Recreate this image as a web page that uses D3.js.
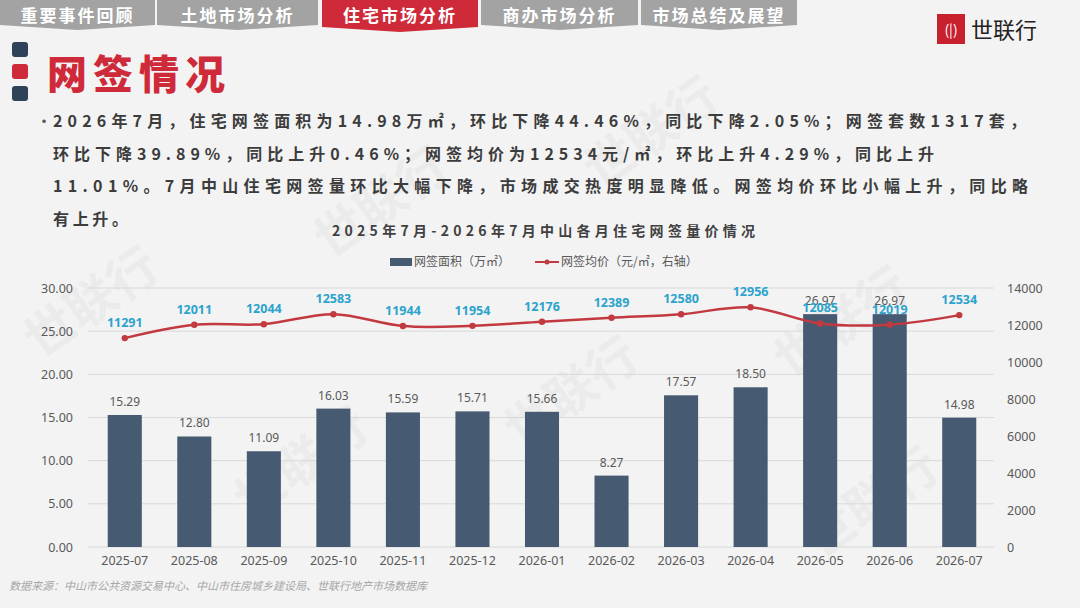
<!DOCTYPE html>
<html>
<head>
<meta charset="utf-8">
<script src="https://cdn.jsdelivr.net/npm/d3@7"></script>
<style>
  body { margin: 0; background: #f3f3f3; }
  svg { display: block; font-family: "Noto Sans CJK SC", "Noto Sans", sans-serif; }
</style>
</head>
<body>
<script>
// 数据
const months = ["2025-07", "2025-08", "2025-09", "2025-10", "2025-11", "2025-12", "2026-01",
  "2026-02", "2026-03", "2026-04", "2026-05", "2026-06", "2026-07"];
const area = [15.29, 12.80, 11.09, 16.03, 15.59, 15.71, 15.66, 8.27, 17.57, 18.50, 26.97, 26.97, 14.98];
const price = [11291, 12011, 12044, 12583, 11944, 11954, 12176, 12389, 12580, 12956, 12085, 12019, 12534];
const leftTicks = [0, 5, 10, 15, 20, 25, 30];
const rightTicks = [0, 2000, 4000, 6000, 8000, 10000, 12000, 14000];
const tabs = ["重要事件回顾", "土地市场分析", "住宅市场分析", "商办市场分析", "市场总结及展望"];
const bulletLines = [
  "2026年7月，住宅网签面积为14.98万㎡，环比下降44.46%，同比下降2.05%；网签套数1317套，",
  "环比下降39.89%，同比上升0.46%；网签均价为12534元/㎡，环比上升4.29%，同比上升",
  "11.01%。7月中山住宅网签量环比大幅下降，市场成交热度明显降低。网签均价环比小幅上升，同比略",
  "有上升。"
];

const W = 1080, H = 608;
const svg = d3.select("body").append("svg").attr("width", W).attr("height", H);

svg.append("rect").attr("width", W).attr("height", H).attr("fill", "#f3f3f3");

// 水印（很淡）
const wm = svg.append("g").attr("fill", "#ebebeb").attr("font-size", 50).attr("font-weight", "bold");
[[40, 360], [330, 260], [600, 190], [250, 520], [520, 450], [790, 380], [820, 560]]
  .forEach(p => {
    wm.append("text").attr("transform", `translate(${p[0]},${p[1]}) rotate(-35)`).text("世联行");
  });

// 顶部标签
const tabX = [[0, 155], [157, 318], [322, 478], [481, 638], [641, 797]];
tabs.forEach((t, i) => {
  const [x0, x1] = tabX[i];
  const active = i === 2;
  const mid = (x0 + x1) / 2;
  const h = active ? 27 : 25;
  svg.append("path")
    .attr("d", `M${x0},0 L${x1},0 L${x1},${h} L${mid},${h + 5} L${x0},${h} Z`)
    .attr("fill", active ? "#cf2a3a" : "#a3a3a3");
  svg.append("text")
    .attr("x", mid).attr("y", 22)
    .attr("text-anchor", "middle")
    .attr("fill", "#fff").attr("font-size", 17).attr("font-weight", "bold")
    .attr("letter-spacing", 2)
    .text(t);
});

// logo
const logo = svg.append("g");
logo.append("rect").attr("x", 937).attr("y", 14).attr("width", 28).attr("height", 30).attr("fill", "#c8202d");
logo.append("text").attr("x", 951).attr("y", 35).attr("text-anchor", "middle")
  .attr("fill", "#fff").attr("font-size", 14).text("(|)");
logo.append("text").attr("x", 971).attr("y", 38).attr("font-size", 22).attr("fill", "#222").text("世联行");

// 标题
[["#2f4257", 42], ["#cf2a3a", 64], ["#2f4257", 86]].forEach(d => {
  svg.append("rect").attr("x", 12).attr("y", d[1]).attr("width", 16).attr("height", 15)
    .attr("rx", 3).attr("fill", d[0]);
});
svg.append("text").attr("x", 47).attr("y", 89).attr("fill", "#cf2a3a")
  .attr("font-size", 40).attr("font-weight", "900").attr("letter-spacing", 6).text("网签情况");

// 正文
svg.append("text").attr("x", 36).attr("y", 127).attr("fill", "#555").attr("font-size", 16).text("·");
const lineEnds = [1026, 934, 1028, 128];
bulletLines.forEach((l, i) => {
  svg.append("text")
    .attr("x", 53).attr("y", 127 + i * 32.5)
    .attr("fill", "#3c3c3c").attr("font-size", 16).attr("font-weight", "bold")
    .attr("textLength", lineEnds[i] - 53).attr("lengthAdjust", "spacing")
    .text(l);
});

// 图表标题
svg.append("text").attr("x", 332).attr("y", 236)
  .attr("fill", "#404040").attr("font-size", 14).attr("font-weight", "bold")
  .attr("textLength", 423).attr("lengthAdjust", "spacing")
  .text("2025年7月-2026年7月中山各月住宅网签量价情况");

// 图例
const lg = svg.append("g").attr("font-size", 12).attr("fill", "#595959");
lg.append("rect").attr("x", 390).attr("y", 258).attr("width", 22).attr("height", 8).attr("fill", "#465a71");
lg.append("text").attr("x", 414).attr("y", 266).attr("fill", "#595959").text("网签面积（万㎡）");
lg.append("line").attr("x1", 535).attr("x2", 559).attr("y1", 262).attr("y2", 262)
  .attr("stroke", "#c23a40").attr("stroke-width", 2);
lg.append("circle").attr("cx", 547).attr("cy", 262).attr("r", 2.5).attr("fill", "#c23a40");
lg.append("text").attr("x", 561).attr("y", 266).attr("fill", "#595959").text("网签均价（元/㎡，右轴）");

// 坐标
const plotL = 90, plotR = 994, plotT = 288, plotB = 547;
const x = d3.scaleBand().domain(months).range([plotL, plotR]).paddingInner(0.51).paddingOuter(0.255);
const yL = d3.scaleLinear().domain([0, 30]).range([plotB, plotT]);
const yR = d3.scaleLinear().domain([0, 14000]).range([plotB, plotT]);

// 网格
svg.append("g").selectAll("line").data(leftTicks).join("line")
  .attr("x1", plotL - 2).attr("x2", plotR)
  .attr("y1", d => yL(d)).attr("y2", d => yL(d))
  .attr("stroke", "#d9d9d9").attr("stroke-width", 1);

// 左轴
const axL = svg.append("g").attr("transform", `translate(${plotL - 14},0)`)
  .call(d3.axisLeft(yL).tickValues(leftTicks).tickFormat(d3.format(".2f")).tickSize(0));
axL.select(".domain").remove();
axL.selectAll("text").attr("font-size", 12.5).attr("fill", "#595959")
  .attr("font-family", "'Noto Sans', sans-serif");

// 右轴
const axR = svg.append("g").attr("transform", `translate(${plotR + 10},0)`)
  .call(d3.axisRight(yR).tickValues(rightTicks).tickFormat(d3.format("d")).tickSize(0));
axR.select(".domain").remove();
axR.selectAll("text").attr("font-size", 12.5).attr("fill", "#595959")
  .attr("font-family", "'Noto Sans', sans-serif");

// X轴
const axX = svg.append("g").attr("transform", `translate(0,${plotB + 6})`)
  .call(d3.axisBottom(x).tickSize(0));
axX.select(".domain").remove();
axX.selectAll("text").attr("font-size", 12.5).attr("fill", "#595959")
  .attr("font-family", "'Noto Sans', sans-serif");

// 柱
svg.append("g").selectAll("rect").data(area).join("rect")
  .attr("x", (d, i) => x(months[i]))
  .attr("width", x.bandwidth())
  .attr("y", d => yL(d))
  .attr("height", d => plotB - yL(d))
  .attr("fill", "#465a71");

svg.append("g").selectAll("text").data(area).join("text")
  .attr("x", (d, i) => x(months[i]) + x.bandwidth() / 2)
  .attr("y", d => yL(d) - 9)
  .attr("text-anchor", "middle")
  .attr("font-size", 12).attr("fill", "#595959")
  .attr("font-family", "'Noto Sans', sans-serif")
  .text(d => d.toFixed(2));

// 折线
const cx = i => x(months[i]) + x.bandwidth() / 2;
const line = d3.line().x((d, i) => cx(i)).y(d => yR(d)).curve(d3.curveCatmullRom.alpha(0.5));
svg.append("path").datum(price).attr("d", line)
  .attr("fill", "none").attr("stroke", "#c23a40").attr("stroke-width", 2.5);
svg.append("g").selectAll("circle").data(price).join("circle")
  .attr("cx", (d, i) => cx(i)).attr("cy", d => yR(d)).attr("r", 3.2).attr("fill", "#c23a40");
svg.append("g").selectAll("text").data(price).join("text")
  .attr("x", (d, i) => cx(i)).attr("y", d => yR(d) - 11)
  .attr("text-anchor", "middle")
  .attr("font-size", 12.5).attr("font-weight", "bold").attr("fill", "#2ba3cc")
  .attr("font-family", "'Noto Sans', sans-serif")
  .text(d => d);

// 数据来源
svg.append("text").attr("x", 9).attr("y", 590)
  .attr("font-size", 11).attr("font-style", "italic").attr("fill", "#a6a6a6")
  .text("数据来源：中山市公共资源交易中心、中山市住房城乡建设局、世联行地产市场数据库");
</script>
</body>
</html>
